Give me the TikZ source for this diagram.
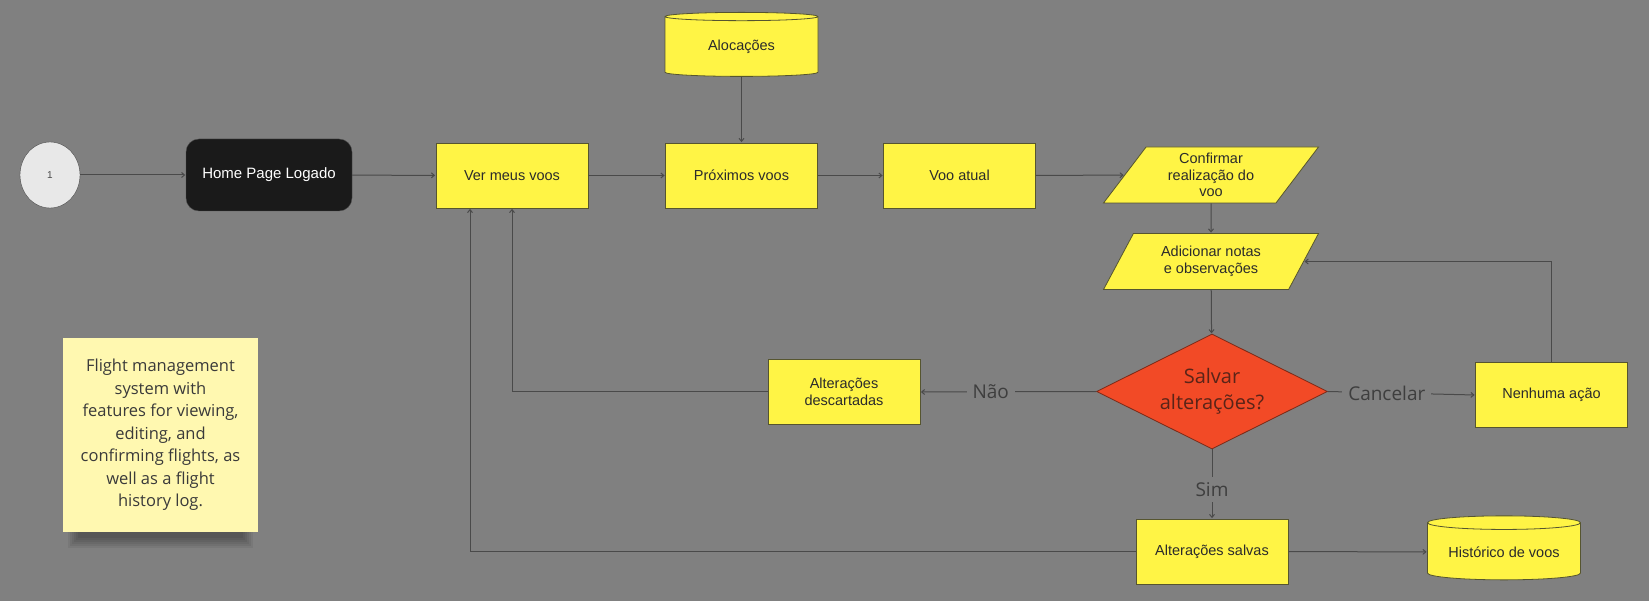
\documentclass[tikz,border=0pt]{standalone}
\usepackage{fontspec}
\setmainfont{Liberation Sans}
\newfontfamily\notefont{Open Sans}
\usetikzlibrary{positioning, arrows.meta, shapes.geometric}

\definecolor{bgGray}{HTML}{808080}
\definecolor{boxYellow}{HTML}{FFF445}
\definecolor{boxLine}{HTML}{56552F}
\definecolor{boxText}{HTML}{2B2B2B}
\definecolor{decRed}{HTML}{F24A26}
\definecolor{decLine}{HTML}{7A2A18}
\definecolor{decText}{HTML}{5A2418}
\definecolor{homeBlack}{HTML}{1A1A1A}
\definecolor{startGray}{HTML}{E8E8E8}
\definecolor{noteYellow}{HTML}{FFF8B0}
\definecolor{noteText}{HTML}{3A3A3A}
\definecolor{wireGray}{HTML}{4A4A4A}
\definecolor{labelGray}{HTML}{3E3E3E}

\begin{document}
\begin{tikzpicture}[x=1pt, y=-1pt,
  s/.style      = {shorten >=0.5pt},
  ln/.style     = {draw=wireGray, line width=1pt, s, -{Straight Barb[length=3pt,width=5pt]}},
  boxtxt/.style = {text=boxText, align=center, font=\fontsize{14.5}{16.5}\selectfont},
  box/.style    = {rectangle, draw=boxLine, line width=0.8pt, fill=boxYellow, boxtxt, minimum width=152pt, minimum height=65pt, inner sep=2pt},
  io/.style     = {trapezium, trapezium left angle=47, trapezium right angle=133, trapezium stretches body, draw=boxLine, line width=0.8pt, fill=boxYellow, boxtxt, minimum width=215pt, minimum height=56pt, inner sep=1pt},
  store/.style  = {cylinder, shape border rotate=90, aspect=0.12, draw=boxLine, line width=0.8pt, fill=boxYellow, boxtxt, minimum width=153pt, minimum height=64pt, inner sep=1pt},
  choice/.style = {diamond, aspect=2, draw=decLine, line width=0.8pt, fill=decRed, minimum width=231pt, minimum height=115pt, inner sep=0pt, align=center, text=decText, font=\notefont\fontsize{20}{26.5}\selectfont},
  lbl/.style    = {fill=bgGray, inner xsep=6pt, inner ysep=5pt, text=labelGray, font=\notefont\fontsize{19}{22}\selectfont},
  sticky/.style = {rectangle, fill=noteYellow, minimum width=195pt, minimum height=194pt, align=center, text=noteText, font=\notefont\fontsize{16.5}{22.5}\selectfont},
  ]

  \fill [bgGray] (0,0) rectangle (1649,601);

  % Entry
  \node (start)  at (50,175)    [ellipse, draw=wireGray, fill=startGray, minimum width=60pt, minimum height=66pt, text=wireGray, font=\fontsize{10}{12}\selectfont] {1};
  \node (home)   at (269,175)   [rectangle, rounded corners=13pt, draw=wireGray, fill=homeBlack, text=white, minimum width=166pt, minimum height=72pt, font=\fontsize{15}{17}\selectfont] {Home Page Logado};

  % Flights
  \node (ver)    at (512,175.5) [box]   {Ver meus voos};
  \node (prox)   at (741.5,175.5) [box] {Próximos voos};
  \node (aloc)   at (741.5,47)  [store] {Alocações};
  \node (atual)  at (959.5,175.5) [box] {Voo atual};
  \node (conf)   at (1211,175)  [io]    {Confirmar\\realização do\\voo};
  \node (adic)   at (1211,261.5) [io]   {Adicionar notas\\e observações};

  % Decision
  \node (dec)    at (1212,391.5) [choice] {Salvar\\alterações?};
  \node (desc)   at (844,392)   [box]   {Alterações\\descartadas};
  \node (nenh)   at (1551.5,395) [box]  {Nenhuma ação};
  \node (salvas) at (1212,551.5) [box]  {Alterações salvas};
  \node (hist)   at (1504,552)  [store] {Histórico de voos};

  % Note, soft shadow first
  \foreach \k in {1,...,6}
    \fill [black, opacity=0.06] (66+2*\k,500) rectangle (255-2*\k,550-2*\k);
  \node (note)   at (160.5,435) [sticky] {Flight management\\system with\\features for viewing,\\editing, and\\confirming flights, as\\well as a flight\\history log.};

  % Main line
  \draw
  (start)  edge [ln] (home)
  (home)   edge [ln] (ver)
  (ver)    edge [ln] (prox)
  (aloc)   edge [ln] (prox)
  (prox)   edge [ln] (atual)
  (atual)  edge [ln] (conf)
  (conf)   edge [ln] (adic)
  (adic)   edge [ln] (dec);

  % Answers
  \draw
  (dec.west)   edge [ln] node[lbl, pos=0.6]  {Não}      (desc.east)
  (dec.east)   edge [ln] node[lbl, pos=0.4]  {Cancelar} (nenh.west)
  (dec.south)  edge [ln] node[lbl, pos=0.58] {Sim}      (salvas.north)
  (salvas)     edge [ln]                                (hist);

  % Return paths
  \draw [ln] (desc.west) -| (ver.south);
  \draw [ln] (salvas.west) -| ([xshift=-42pt]ver.south);
  \draw [ln] (nenh.north) |- (adic.east);
\end{tikzpicture}
\end{document}
